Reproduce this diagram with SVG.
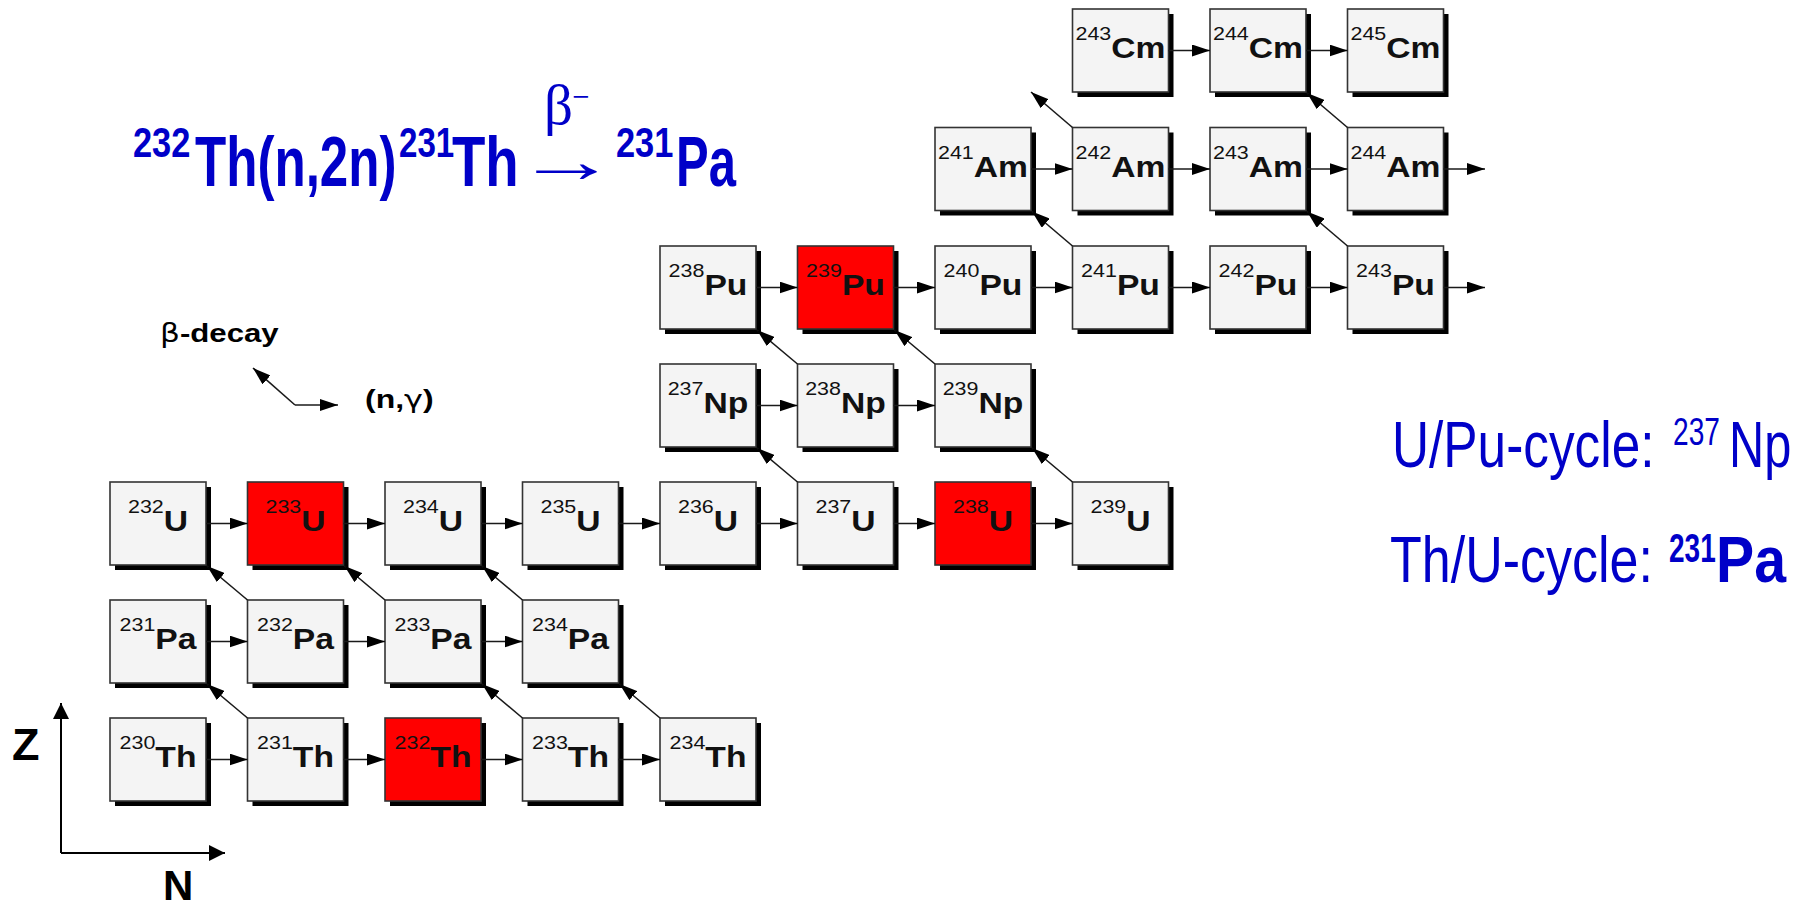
<svg xmlns="http://www.w3.org/2000/svg" width="1802" height="905" viewBox="0 0 1802 905">
<style>
.sh{fill:#000}
.box{fill:#f4f4f4;stroke:#333;stroke-width:1.6}
.red{fill:#ff0000;stroke:#333;stroke-width:1.6}
.lbl{font-family:"Liberation Sans",Arial,sans-serif;fill:#111;text-anchor:middle}
.sup{font-size:18.5px;font-weight:normal}
.sym{font-size:29px;font-weight:bold}
.con line{stroke:#1a1a1a;stroke-width:1.6;marker-end:url(#ah)}
.blue{font-family:"Liberation Sans",Arial,sans-serif;fill:#0000c8}
.blk{font-family:"Liberation Sans",Arial,sans-serif;fill:#000}
.b{font-weight:bold}
</style>
<defs>
<marker id="ah" viewBox="0 0 18 12" refX="18" refY="6" markerWidth="18" markerHeight="12" markerUnits="userSpaceOnUse" orient="auto"><path d="M0,0 L18,6 L0,12 Z" fill="#000"/></marker>
<marker id="ax" viewBox="0 0 16 16" refX="16" refY="8" markerWidth="16" markerHeight="16" markerUnits="userSpaceOnUse" orient="auto"><path d="M0,0 L16,8 L0,16 Z" fill="#000"/></marker>
</defs>

<!-- Title -->
<g id="title" class="blue">
<text class="b" font-size="43" transform="translate(133,157) scale(0.8,1)">232</text>
<text class="b" font-size="70" transform="translate(195,186) scale(0.73,1)">Th(n,2n)</text>
<text class="b" font-size="43" transform="translate(399,157) scale(0.77,1)">231</text>
<text class="b" font-size="70" transform="translate(452,186) scale(0.78,1)">Th</text>
<text font-size="62" font-family="Liberation Serif, serif" transform="translate(515,182) scale(1.65,1)">→</text>
<text font-size="57" font-family="Liberation Serif, serif" transform="translate(544,124)">β</text>
<text font-size="34" font-family="Liberation Serif, serif" transform="translate(572,108) scale(0.9,1)">−</text>
<text class="b" font-size="43" transform="translate(616,157) scale(0.8,1)">231</text>
<text class="b" font-size="70" transform="translate(676,186) scale(0.7,1)">Pa</text>
</g>

<!-- Legend (right) -->
<g id="legend-cycles" class="blue">
<text font-size="65" transform="translate(1392,467) scale(0.79,1)">U/Pu-cycle:</text>
<text font-size="38" transform="translate(1673,445) scale(0.74,1)">237</text>
<text font-size="65" transform="translate(1729,467) scale(0.75,1)">Np</text>
<text font-size="65" transform="translate(1390,582) scale(0.8,1)">Th/U-cycle:</text>
<text class="b" font-size="40" transform="translate(1669,562) scale(0.7,1)">231</text>
<text class="b" font-size="65" transform="translate(1716,582) scale(0.88,1)">Pa</text>
</g>

<!-- Legend (decay directions) -->
<g id="legend-dirs">
<text class="blk" font-size="26" transform="translate(160,342) scale(1.2,1)"><tspan font-family="DejaVu Sans, sans-serif">β</tspan><tspan class="b">-decay</tspan></text>
<text class="blk b" font-size="25" transform="translate(365,408) scale(1.28,1)">(n,<tspan font-weight="normal" font-family="DejaVu Sans, sans-serif">γ</tspan>)</text>
<line x1="295" y1="405" x2="253" y2="368" stroke="#1a1a1a" stroke-width="1.6" marker-end="url(#ah)"/>
<line x1="295" y1="405" x2="338" y2="405" stroke="#1a1a1a" stroke-width="1.6" marker-end="url(#ah)"/>
</g>

<!-- Axes -->
<g id="axes">
<line x1="61" y1="853" x2="61" y2="703" stroke="#000" stroke-width="2" marker-end="url(#ax)"/>
<line x1="61" y1="853" x2="225" y2="853" stroke="#000" stroke-width="2" marker-end="url(#ax)"/>
<text class="blk b" x="12" y="760" font-size="45">Z</text>
<text class="blk b" x="163" y="900" font-size="42">N</text>
</g>

<!-- Nodes -->
<g id="n-Th230"><rect class="sh" x="115" y="723" width="96" height="83"/><rect class="box" x="110" y="718" width="96" height="83"/><text class="lbl" transform="translate(158,767) scale(1.16,1)"><tspan class="sup" dy="-18">230</tspan><tspan class="sym" dy="18">Th</tspan></text></g>
<g id="n-Th231"><rect class="sh" x="252.5" y="723" width="96" height="83"/><rect class="box" x="247.5" y="718" width="96" height="83"/><text class="lbl" transform="translate(295.5,767) scale(1.16,1)"><tspan class="sup" dy="-18">231</tspan><tspan class="sym" dy="18">Th</tspan></text></g>
<g id="n-Th232"><rect class="sh" x="390" y="723" width="96" height="83"/><rect class="red" x="385" y="718" width="96" height="83"/><text class="lbl" transform="translate(433,767) scale(1.16,1)"><tspan class="sup" dy="-18">232</tspan><tspan class="sym" dy="18">Th</tspan></text></g>
<g id="n-Th233"><rect class="sh" x="527.5" y="723" width="96" height="83"/><rect class="box" x="522.5" y="718" width="96" height="83"/><text class="lbl" transform="translate(570.5,767) scale(1.16,1)"><tspan class="sup" dy="-18">233</tspan><tspan class="sym" dy="18">Th</tspan></text></g>
<g id="n-Th234"><rect class="sh" x="665" y="723" width="96" height="83"/><rect class="box" x="660" y="718" width="96" height="83"/><text class="lbl" transform="translate(708,767) scale(1.16,1)"><tspan class="sup" dy="-18">234</tspan><tspan class="sym" dy="18">Th</tspan></text></g>

<g id="n-Pa231"><rect class="sh" x="115" y="605" width="96" height="83"/><rect class="box" x="110" y="600" width="96" height="83"/><text class="lbl" transform="translate(158,649) scale(1.16,1)"><tspan class="sup" dy="-18">231</tspan><tspan class="sym" dy="18">Pa</tspan></text></g>
<g id="n-Pa232"><rect class="sh" x="252.5" y="605" width="96" height="83"/><rect class="box" x="247.5" y="600" width="96" height="83"/><text class="lbl" transform="translate(295.5,649) scale(1.16,1)"><tspan class="sup" dy="-18">232</tspan><tspan class="sym" dy="18">Pa</tspan></text></g>
<g id="n-Pa233"><rect class="sh" x="390" y="605" width="96" height="83"/><rect class="box" x="385" y="600" width="96" height="83"/><text class="lbl" transform="translate(433,649) scale(1.16,1)"><tspan class="sup" dy="-18">233</tspan><tspan class="sym" dy="18">Pa</tspan></text></g>
<g id="n-Pa234"><rect class="sh" x="527.5" y="605" width="96" height="83"/><rect class="box" x="522.5" y="600" width="96" height="83"/><text class="lbl" transform="translate(570.5,649) scale(1.16,1)"><tspan class="sup" dy="-18">234</tspan><tspan class="sym" dy="18">Pa</tspan></text></g>

<g id="n-U232"><rect class="sh" x="115" y="487" width="96" height="83"/><rect class="box" x="110" y="482" width="96" height="83"/><text class="lbl" transform="translate(158,531) scale(1.16,1)"><tspan class="sup" dy="-18">232</tspan><tspan class="sym" dy="18">U</tspan></text></g>
<g id="n-U233"><rect class="sh" x="252.5" y="487" width="96" height="83"/><rect class="red" x="247.5" y="482" width="96" height="83"/><text class="lbl" transform="translate(295.5,531) scale(1.16,1)"><tspan class="sup" dy="-18">233</tspan><tspan class="sym" dy="18">U</tspan></text></g>
<g id="n-U234"><rect class="sh" x="390" y="487" width="96" height="83"/><rect class="box" x="385" y="482" width="96" height="83"/><text class="lbl" transform="translate(433,531) scale(1.16,1)"><tspan class="sup" dy="-18">234</tspan><tspan class="sym" dy="18">U</tspan></text></g>
<g id="n-U235"><rect class="sh" x="527.5" y="487" width="96" height="83"/><rect class="box" x="522.5" y="482" width="96" height="83"/><text class="lbl" transform="translate(570.5,531) scale(1.16,1)"><tspan class="sup" dy="-18">235</tspan><tspan class="sym" dy="18">U</tspan></text></g>
<g id="n-U236"><rect class="sh" x="665" y="487" width="96" height="83"/><rect class="box" x="660" y="482" width="96" height="83"/><text class="lbl" transform="translate(708,531) scale(1.16,1)"><tspan class="sup" dy="-18">236</tspan><tspan class="sym" dy="18">U</tspan></text></g>
<g id="n-U237"><rect class="sh" x="802.5" y="487" width="96" height="83"/><rect class="box" x="797.5" y="482" width="96" height="83"/><text class="lbl" transform="translate(845.5,531) scale(1.16,1)"><tspan class="sup" dy="-18">237</tspan><tspan class="sym" dy="18">U</tspan></text></g>
<g id="n-U238"><rect class="sh" x="940" y="487" width="96" height="83"/><rect class="red" x="935" y="482" width="96" height="83"/><text class="lbl" transform="translate(983,531) scale(1.16,1)"><tspan class="sup" dy="-18">238</tspan><tspan class="sym" dy="18">U</tspan></text></g>
<g id="n-U239"><rect class="sh" x="1077.5" y="487" width="96" height="83"/><rect class="box" x="1072.5" y="482" width="96" height="83"/><text class="lbl" transform="translate(1120.5,531) scale(1.16,1)"><tspan class="sup" dy="-18">239</tspan><tspan class="sym" dy="18">U</tspan></text></g>

<g id="n-Np237"><rect class="sh" x="665" y="369" width="96" height="83"/><rect class="box" x="660" y="364" width="96" height="83"/><text class="lbl" transform="translate(708,413) scale(1.16,1)"><tspan class="sup" dy="-18">237</tspan><tspan class="sym" dy="18">Np</tspan></text></g>
<g id="n-Np238"><rect class="sh" x="802.5" y="369" width="96" height="83"/><rect class="box" x="797.5" y="364" width="96" height="83"/><text class="lbl" transform="translate(845.5,413) scale(1.16,1)"><tspan class="sup" dy="-18">238</tspan><tspan class="sym" dy="18">Np</tspan></text></g>
<g id="n-Np239"><rect class="sh" x="940" y="369" width="96" height="83"/><rect class="box" x="935" y="364" width="96" height="83"/><text class="lbl" transform="translate(983,413) scale(1.16,1)"><tspan class="sup" dy="-18">239</tspan><tspan class="sym" dy="18">Np</tspan></text></g>

<g id="n-Pu238"><rect class="sh" x="665" y="251" width="96" height="83"/><rect class="box" x="660" y="246" width="96" height="83"/><text class="lbl" transform="translate(708,295) scale(1.16,1)"><tspan class="sup" dy="-18">238</tspan><tspan class="sym" dy="18">Pu</tspan></text></g>
<g id="n-Pu239"><rect class="sh" x="802.5" y="251" width="96" height="83"/><rect class="red" x="797.5" y="246" width="96" height="83"/><text class="lbl" transform="translate(845.5,295) scale(1.16,1)"><tspan class="sup" dy="-18">239</tspan><tspan class="sym" dy="18">Pu</tspan></text></g>
<g id="n-Pu240"><rect class="sh" x="940" y="251" width="96" height="83"/><rect class="box" x="935" y="246" width="96" height="83"/><text class="lbl" transform="translate(983,295) scale(1.16,1)"><tspan class="sup" dy="-18">240</tspan><tspan class="sym" dy="18">Pu</tspan></text></g>
<g id="n-Pu241"><rect class="sh" x="1077.5" y="251" width="96" height="83"/><rect class="box" x="1072.5" y="246" width="96" height="83"/><text class="lbl" transform="translate(1120.5,295) scale(1.16,1)"><tspan class="sup" dy="-18">241</tspan><tspan class="sym" dy="18">Pu</tspan></text></g>
<g id="n-Pu242"><rect class="sh" x="1215" y="251" width="96" height="83"/><rect class="box" x="1210" y="246" width="96" height="83"/><text class="lbl" transform="translate(1258,295) scale(1.16,1)"><tspan class="sup" dy="-18">242</tspan><tspan class="sym" dy="18">Pu</tspan></text></g>
<g id="n-Pu243"><rect class="sh" x="1352.5" y="251" width="96" height="83"/><rect class="box" x="1347.5" y="246" width="96" height="83"/><text class="lbl" transform="translate(1395.5,295) scale(1.16,1)"><tspan class="sup" dy="-18">243</tspan><tspan class="sym" dy="18">Pu</tspan></text></g>

<g id="n-Am241"><rect class="sh" x="940" y="132.5" width="96" height="83"/><rect class="box" x="935" y="127.5" width="96" height="83"/><text class="lbl" transform="translate(983,176.5) scale(1.16,1)"><tspan class="sup" dy="-18">241</tspan><tspan class="sym" dy="18">Am</tspan></text></g>
<g id="n-Am242"><rect class="sh" x="1077.5" y="132.5" width="96" height="83"/><rect class="box" x="1072.5" y="127.5" width="96" height="83"/><text class="lbl" transform="translate(1120.5,176.5) scale(1.16,1)"><tspan class="sup" dy="-18">242</tspan><tspan class="sym" dy="18">Am</tspan></text></g>
<g id="n-Am243"><rect class="sh" x="1215" y="132.5" width="96" height="83"/><rect class="box" x="1210" y="127.5" width="96" height="83"/><text class="lbl" transform="translate(1258,176.5) scale(1.16,1)"><tspan class="sup" dy="-18">243</tspan><tspan class="sym" dy="18">Am</tspan></text></g>
<g id="n-Am244"><rect class="sh" x="1352.5" y="132.5" width="96" height="83"/><rect class="box" x="1347.5" y="127.5" width="96" height="83"/><text class="lbl" transform="translate(1395.5,176.5) scale(1.16,1)"><tspan class="sup" dy="-18">244</tspan><tspan class="sym" dy="18">Am</tspan></text></g>

<g id="n-Cm243"><rect class="sh" x="1077.5" y="14" width="96" height="83"/><rect class="box" x="1072.5" y="9" width="96" height="83"/><text class="lbl" transform="translate(1120.5,58) scale(1.16,1)"><tspan class="sup" dy="-18">243</tspan><tspan class="sym" dy="18">Cm</tspan></text></g>
<g id="n-Cm244"><rect class="sh" x="1215" y="14" width="96" height="83"/><rect class="box" x="1210" y="9" width="96" height="83"/><text class="lbl" transform="translate(1258,58) scale(1.16,1)"><tspan class="sup" dy="-18">244</tspan><tspan class="sym" dy="18">Cm</tspan></text></g>
<g id="n-Cm245"><rect class="sh" x="1352.5" y="14" width="96" height="83"/><rect class="box" x="1347.5" y="9" width="96" height="83"/><text class="lbl" transform="translate(1395.5,58) scale(1.16,1)"><tspan class="sup" dy="-18">245</tspan><tspan class="sym" dy="18">Cm</tspan></text></g>

<!-- Connectors -->
<g id="connectors" class="con">
<line x1="206" y1="759.5" x2="247.5" y2="759.5"/>
<line x1="343.5" y1="759.5" x2="385" y2="759.5"/>
<line x1="481" y1="759.5" x2="522.5" y2="759.5"/>
<line x1="618.5" y1="759.5" x2="660" y2="759.5"/>
<line x1="206" y1="641.5" x2="247.5" y2="641.5"/>
<line x1="343.5" y1="641.5" x2="385" y2="641.5"/>
<line x1="481" y1="641.5" x2="522.5" y2="641.5"/>
<line x1="206" y1="523.5" x2="247.5" y2="523.5"/>
<line x1="343.5" y1="523.5" x2="385" y2="523.5"/>
<line x1="481" y1="523.5" x2="522.5" y2="523.5"/>
<line x1="618.5" y1="523.5" x2="660" y2="523.5"/>
<line x1="756" y1="523.5" x2="797.5" y2="523.5"/>
<line x1="893.5" y1="523.5" x2="935" y2="523.5"/>
<line x1="1031" y1="523.5" x2="1072.5" y2="523.5"/>
<line x1="756" y1="405.5" x2="797.5" y2="405.5"/>
<line x1="893.5" y1="405.5" x2="935" y2="405.5"/>
<line x1="756" y1="287.5" x2="797.5" y2="287.5"/>
<line x1="893.5" y1="287.5" x2="935" y2="287.5"/>
<line x1="1031" y1="287.5" x2="1072.5" y2="287.5"/>
<line x1="1168.5" y1="287.5" x2="1210" y2="287.5"/>
<line x1="1306" y1="287.5" x2="1347.5" y2="287.5"/>
<line x1="1443.5" y1="287.5" x2="1485" y2="287.5"/>
<line x1="1031" y1="169" x2="1072.5" y2="169"/>
<line x1="1168.5" y1="169" x2="1210" y2="169"/>
<line x1="1306" y1="169" x2="1347.5" y2="169"/>
<line x1="1443.5" y1="169" x2="1485" y2="169"/>
<line x1="1168.5" y1="50.5" x2="1210" y2="50.5"/>
<line x1="1306" y1="50.5" x2="1347.5" y2="50.5"/>
<line x1="247.5" y1="718" x2="207" y2="684"/>
<line x1="522.5" y1="718" x2="482" y2="684"/>
<line x1="660" y1="718" x2="619.5" y2="684"/>
<line x1="247.5" y1="600" x2="207" y2="566"/>
<line x1="385" y1="600" x2="344.5" y2="566"/>
<line x1="522.5" y1="600" x2="482" y2="566"/>
<line x1="797.5" y1="482" x2="757" y2="448"/>
<line x1="1072.5" y1="482" x2="1032" y2="448"/>
<line x1="797.5" y1="364" x2="757" y2="330"/>
<line x1="935" y1="364" x2="894.5" y2="330"/>
<line x1="1072.5" y1="246" x2="1032" y2="211.5"/>
<line x1="1347.5" y1="246" x2="1307" y2="211.5"/>
<line x1="1072.5" y1="127.5" x2="1031" y2="92"/>
<line x1="1347.5" y1="127.5" x2="1307" y2="93"/>
</g>
</svg>
